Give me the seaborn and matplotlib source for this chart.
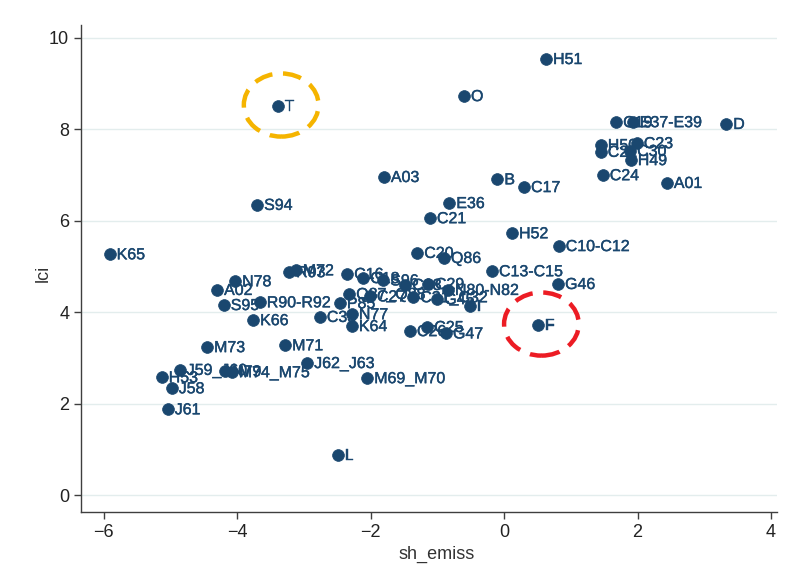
import matplotlib
matplotlib.use("Agg")
import matplotlib.pyplot as plt
import matplotlib.patheffects as pe
from matplotlib.patches import Ellipse
import pandas as pd
import seaborn as sns

# Industry codes (NACE) with emission share (sh_emiss) and index (lci)
codes = [
    "K65", "T", "S94", "O", "H51", "A03", "B", "C17", "E36", "C21",
    "H52", "C10-C12", "C20", "Q86", "C13-C15", "G46", "F", "A01", "D", "C24",
    "H49", "C23", "H50", "C22", "C19", "E37-E39", "C30", "N78", "A02", "S95",
    "R90-R92", "K66", "R93", "M72", "M73", "M71", "J62_J63", "M69_M70", "L", "J59_J60",
    "N79", "M74_M75", "H53", "J58", "J61", "C16", "C18", "S96", "C28", "C29",
    "N80-N82", "Q87_Q88", "P85", "C27", "C31_C32", "G45", "I", "N77", "K64", "C33",
    "C26", "C25", "G47",
]
sh_emiss = [
    -5.91, -3.39, -3.70, -0.60, 0.63, -1.80, -0.10, 0.30, -0.82, -1.11,
    0.12, 0.82, -1.30, -0.90, -0.18, 0.81, 0.51, 2.44, 3.33, 1.48,
    1.90, 1.99, 1.45, 1.45, 1.68, 1.93, 1.89, -4.03, -4.30, -4.20,
    -3.66, -3.76, -3.22, -3.12, -4.45, -3.28, -2.95, -2.05, -2.49, -4.86,
    -4.18, -4.08, -5.13, -4.98, -5.04, -2.35, -2.11, -1.81, -1.48, -1.14,
    -0.84, -2.32, -2.46, -2.01, -1.36, -1.00, -0.51, -2.28, -2.28, -2.76,
    -1.41, -1.15, -0.87,
]
lci = [
    5.27, 8.51, 6.35, 8.73, 9.54, 6.96, 6.91, 6.74, 6.39, 6.06,
    5.73, 5.45, 5.30, 5.19, 4.90, 4.62, 3.72, 6.83, 8.12, 7.00,
    7.33, 7.70, 7.66, 7.51, 8.16, 8.16, 7.53, 4.68, 4.49, 4.16,
    4.22, 3.83, 4.88, 4.92, 3.24, 3.28, 2.89, 2.56, 0.88, 2.74,
    2.71, 2.69, 2.58, 2.34, 1.88, 4.84, 4.75, 4.70, 4.60, 4.62,
    4.49, 4.40, 4.20, 4.35, 4.33, 4.29, 4.14, 3.96, 3.70, 3.90,
    3.59, 3.68, 3.54,
]

x_ticks = [-6, -4, -2, 0, 2, 4]
y_ticks = [0, 2, 4, 6, 8, 10]

# Highlighted industries: (code, ring colour)
highlights = [("T", "#F5B400"), ("F", "#EC1C24")]

navy = "#1a476f"
df = pd.DataFrame({"code": codes, "sh_emiss": sh_emiss, "lci": lci})

sns.set_style("white")
plt.rcParams["font.family"] = ["Liberation Sans", "DejaVu Sans"]

fig = plt.figure(figsize=(7.98, 5.85), dpi=100)
ax = fig.add_axes([81 / 798, 73 / 585, 696 / 798, 487 / 585])

ax.set_xlim(-6.34, 4.09)
ax.set_ylim(-0.37, 10.28)
ax.set_yticks(y_ticks)
ax.set_xticks(x_ticks)
ax.yaxis.grid(True, color="#e3eded", linewidth=1.0)
ax.set_axisbelow(True)

sns.scatterplot(data=df, x="sh_emiss", y="lci", ax=ax, color=navy,
                s=72, edgecolor=navy, linewidth=0.5, zorder=3)

label_fx = [pe.withStroke(linewidth=0.3, foreground=navy)]
for c, xv, yv in zip(codes, sh_emiss, lci):
    ax.annotate(c, (xv, yv), xytext=(5, -0.5), textcoords="offset points",
                va="center", ha="left", fontsize=11.5, color=navy, zorder=4,
                path_effects=label_fx)

# Dashed rings around the highlighted industries
for code, col in highlights:
    i = codes.index(code)
    ax.add_patch(Ellipse((sh_emiss[i] + 0.05, lci[i] + 0.02), width=1.12, height=1.38,
                         fill=False, edgecolor=col, linewidth=3.2,
                         linestyle=(0, (4.2, 2.4)), zorder=5))

for side in ("top", "right"):
    ax.spines[side].set_visible(False)
for side in ("left", "bottom"):
    ax.spines[side].set_color("#3f3f3f")
    ax.spines[side].set_linewidth(1.0)

ax.tick_params(axis="both", which="major", direction="out", length=5,
               width=1, color="#3f3f3f", labelsize=13, labelcolor="#222222",
               left=True, bottom=True)
ax.set_xlabel("sh_emiss", fontsize=13, color="#333333")
ax.set_ylabel("lci", fontsize=13, color="#333333")
ax.xaxis.set_label_coords(0.511, -0.07)
ax.yaxis.set_label_coords(-0.042, 0.49)

fig.savefig("out.png", dpi=100, facecolor="white")
